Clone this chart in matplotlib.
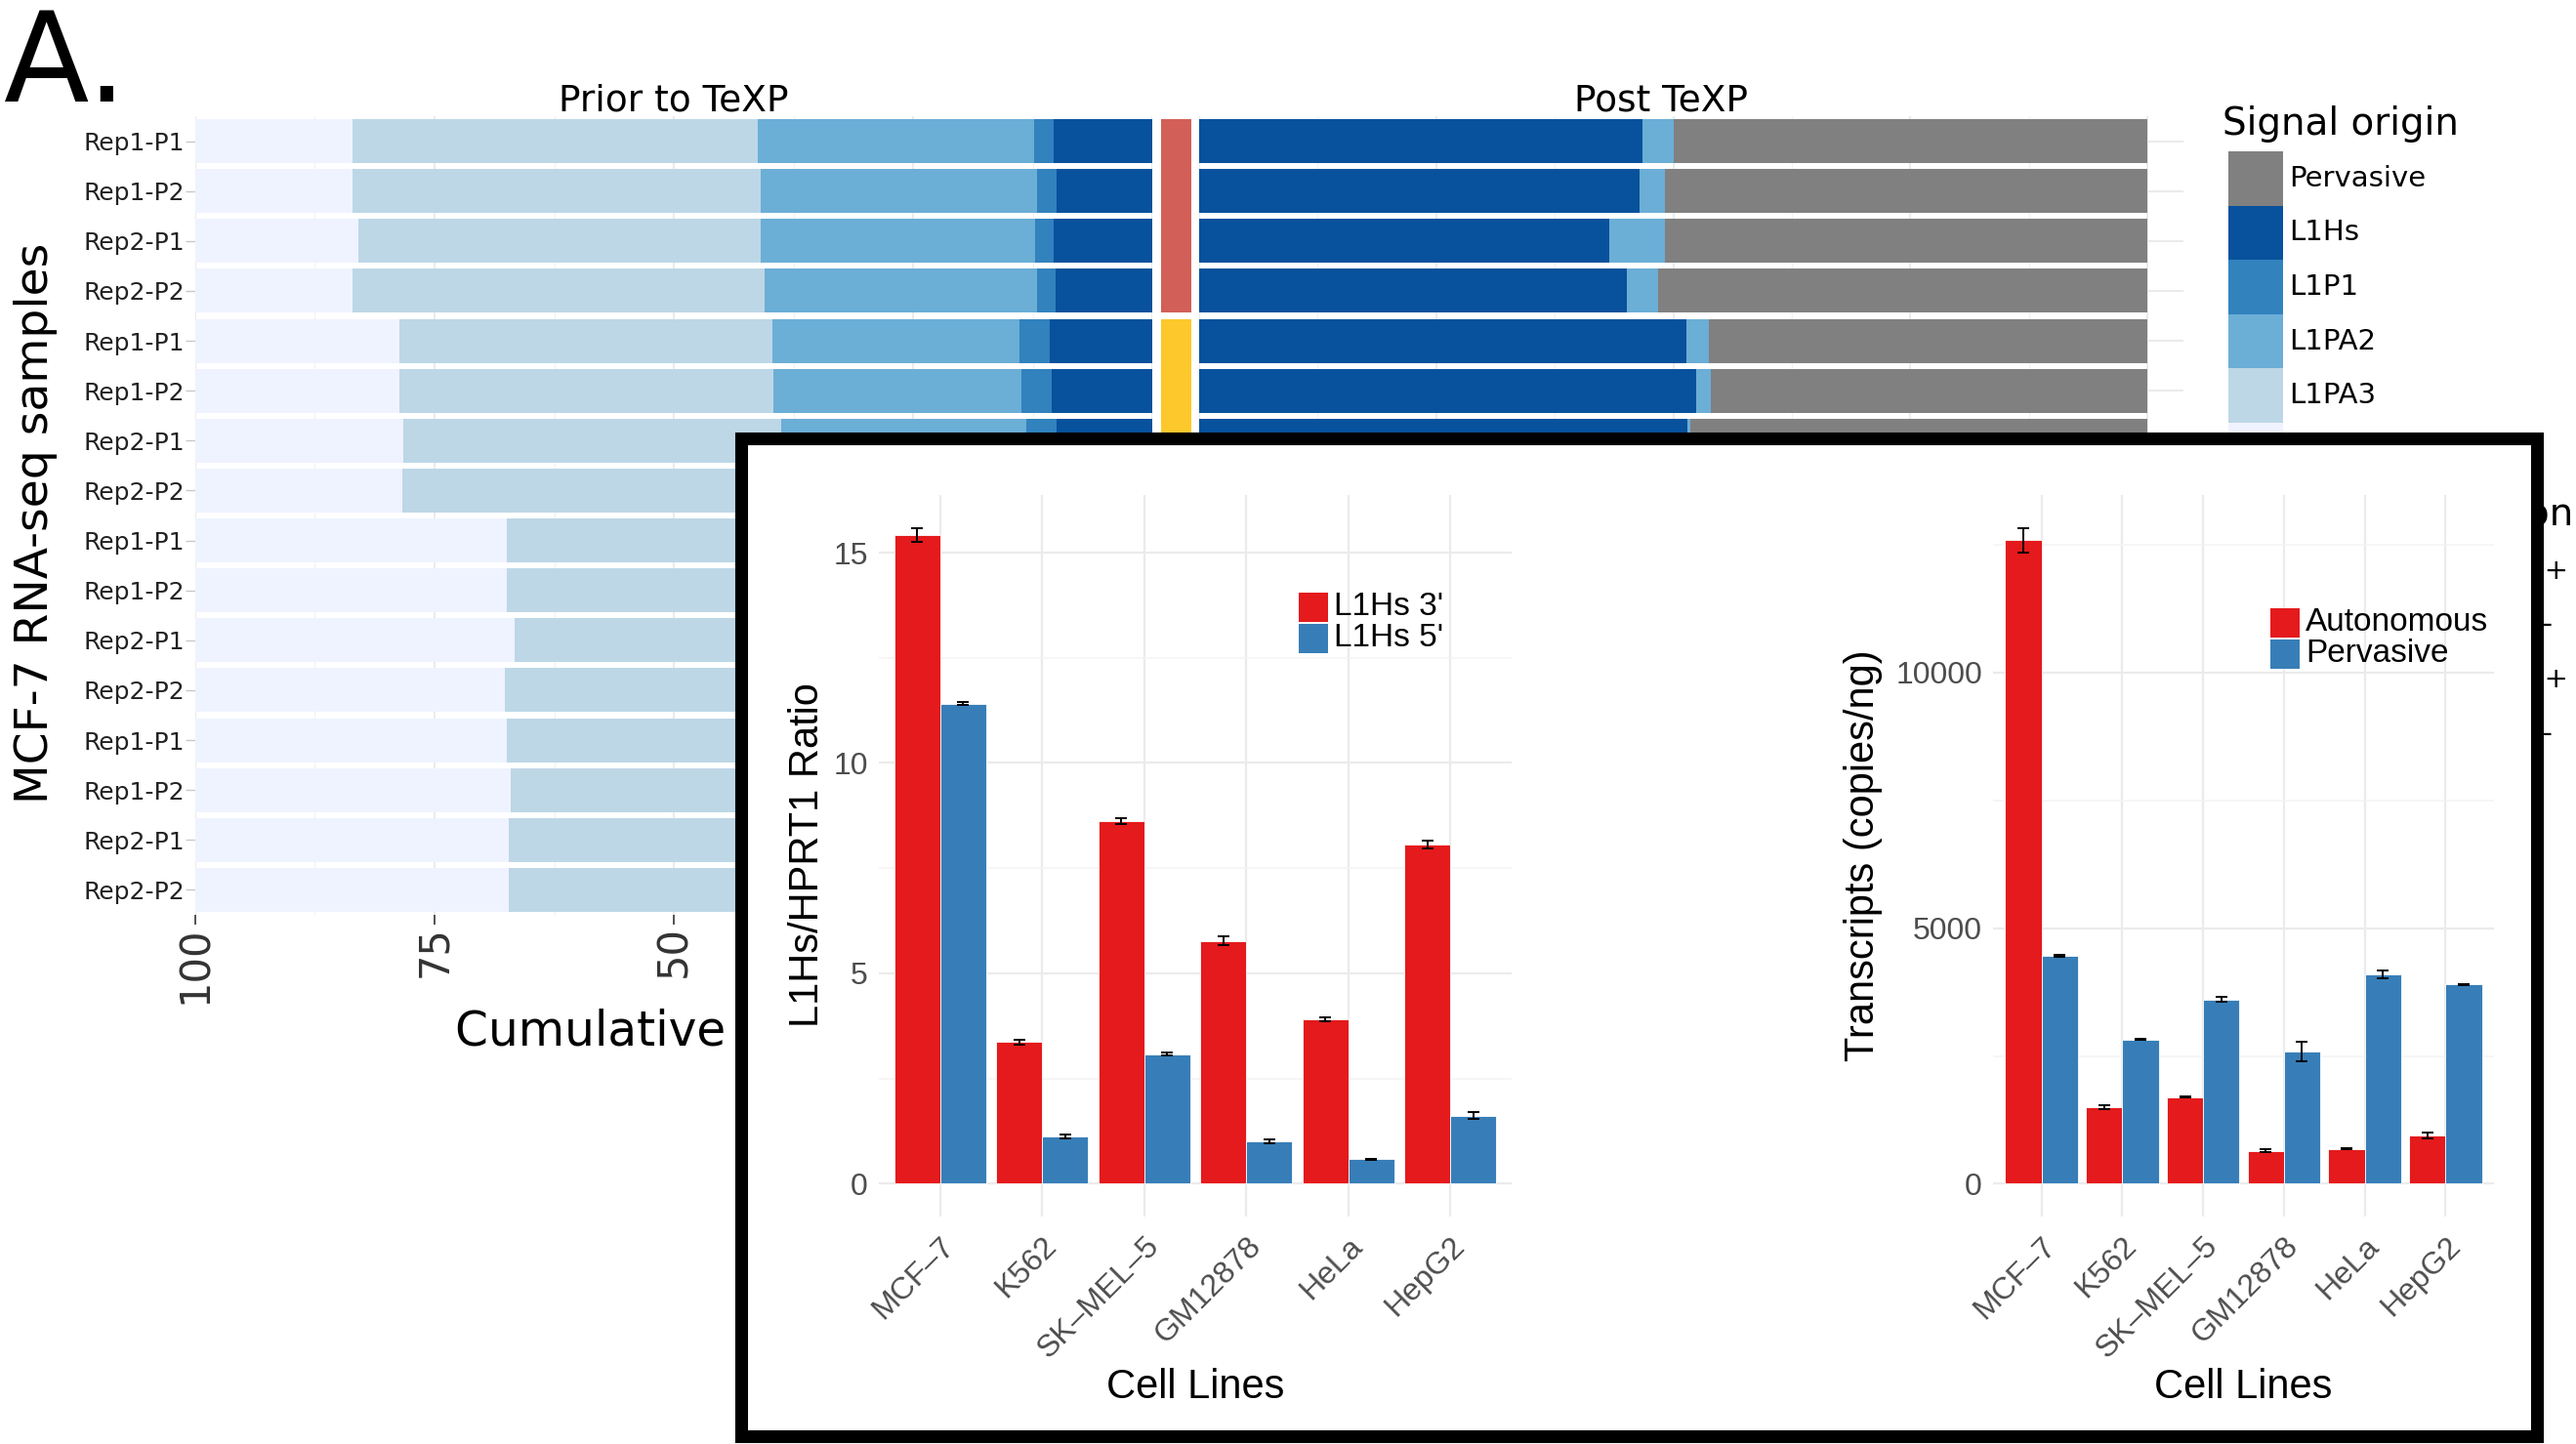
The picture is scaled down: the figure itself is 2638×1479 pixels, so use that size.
import numpy as np
import matplotlib.pyplot as plt
from matplotlib.patches import Rectangle

W, H = 2638, 1479

samples = ["Rep1-P1", "Rep1-P2", "Rep2-P1", "Rep2-P2"] * 4
groups = ["L1 ORF1 vector +", "L1 ORF1 vector -", "L1 ORF2 vector +", "L1 ORF2 vector -"]
group_colors = ["#d35f59", "#fdc82c", "#5aae61", "#9970ab"]

origins = ["Pervasive", "L1Hs", "L1P1", "L1PA2", "L1PA3", "L1PA4"]
origin_colors = ["#808080", "#08519c", "#3182bd", "#6baed6", "#bdd7e7", "#eff3ff"]

# % of signal per sample before TeXP correction
prior_l1hs = [10.3, 10.0, 10.3, 10.1, 10.7, 10.5, 10.0, 10.2, 11.2, 11.0, 11.4, 11.1, 10.8, 10.9, 11.0, 11.2]
prior_l1p1 = [2.0, 2.0, 1.9, 1.9, 3.2, 3.2, 3.2, 3.3, 3.4, 3.5, 3.3, 3.4, 3.6, 3.5, 3.4, 3.5]
prior_l1pa2 = [28.9, 28.9, 28.7, 28.5, 25.8, 25.9, 25.6, 25.7, 24.6, 24.4, 24.8, 24.3, 24.7, 24.5, 24.6, 24.4]
prior_l1pa3 = [42.4, 42.7, 42.1, 43.1, 39.0, 39.1, 39.5, 39.2, 28.2, 28.6, 27.1, 28.9, 28.3, 28.1, 28.2, 28.1]
prior_l1pa4 = [16.4, 16.4, 17.0, 16.4, 21.3, 21.3, 21.7, 21.6, 32.6, 32.5, 33.4, 32.3, 32.6, 33.0, 32.8, 32.8]

# % of signal per sample after TeXP correction
post_pervasive = [50.0, 50.9, 50.9, 51.6, 46.2, 46.0, 48.2, 48.0, 57.5, 58.2, 56.9, 58.8, 57.1, 57.9, 58.4, 57.6]
post_l1pa2 = [3.2, 2.7, 5.9, 3.3, 2.4, 1.6, 0.3, 0.4, 1.8, 2.1, 1.6, 2.0, 1.9, 1.7, 2.2, 1.8]
post_l1hs = [46.8, 46.4, 43.2, 45.1, 51.4, 52.4, 51.5, 51.6, 40.7, 39.7, 41.5, 39.2, 41.0, 40.4, 39.4, 40.6]

cell_lines = ["MCF–7", "K562", "SK–MEL–5", "GM12878", "HeLa", "HepG2"]
ratio_3p = [15.42, 3.37, 8.62, 5.77, 3.91, 8.06]
ratio_3p_err = [0.17, 0.06, 0.06, 0.10, 0.05, 0.10]
ratio_5p = [11.41, 1.12, 3.08, 1.00, 0.58, 1.62]
ratio_5p_err = [0.04, 0.04, 0.03, 0.05, 0.02, 0.08]
copies_auto = [12594, 1494, 1696, 646, 682, 949]
copies_auto_err = [240, 40, 10, 25, 15, 55]
copies_perv = [4458, 2823, 3606, 2594, 4101, 3899]
copies_perv_err = [20, 15, 45, 190, 80, 10]

RED, BLUE = "#e41a1c", "#377eb8"
SANS = "Liberation Sans"


def fx(x):
    return x / W


def fy(y):
    return 1 - y / H


def box(x0, y0, x1, y1):
    return [x0 / W, 1 - y1 / H, (x1 - x0) / W, (y1 - y0) / H]


fig = plt.figure(figsize=(W / 100, H / 100), dpi=100)
rows = np.arange(len(samples))


def stacked(ax, parts, colors):
    left = np.zeros(len(samples))
    for vals, c in zip(parts, colors):
        ax.barh(rows, vals, left=left, height=0.88, color=c, linewidth=0, zorder=2)
        left += np.asarray(vals)


def style_top(ax, xlim):
    for s in ax.spines.values():
        s.set_visible(False)
    ax.set_xlim(*xlim)
    ax.set_ylim(len(samples) - 0.5, -0.5)
    ax.set_xticks([100, 75, 50, 25, 0])
    ax.set_xticks([87.5, 62.5, 37.5, 12.5], minor=True)
    ax.set_yticks(rows)
    ax.grid(which="major", color="#ebebeb", lw=1.5)
    ax.grid(which="minor", axis="x", color="#f3f3f3", lw=1.0)
    ax.set_axisbelow(True)
    ax.tick_params(axis="x", which="major", labelrotation=90, labelsize=30,
                   length=7, width=1.2, color="#333333", labelcolor="#333333", pad=1)
    ax.tick_params(axis="x", which="minor", length=0)
    ax.tick_params(axis="y", length=7, width=1.0, color="#c8c8c8",
                   labelsize=18, labelcolor="#222222", pad=1)


# prior panel
ax_pre = fig.add_axes(box(200, 119, 1180, 937))
stacked(ax_pre, [prior_l1hs, prior_l1p1, prior_l1pa2, prior_l1pa3, prior_l1pa4],
        origin_colors[1:])
style_top(ax_pre, (100, 0))
ax_pre.set_yticklabels(samples)

# condition strip
ax_ann = fig.add_axes(box(1189, 119, 1220, 937))
centers = [1.5, 5.5, 9.5, 13.5]
ax_ann.barh(centers, [1] * 4, height=3.88, color=group_colors, linewidth=0)
ax_ann.set_xlim(0, 1)
ax_ann.set_ylim(len(samples) - 0.5, -0.5)
ax_ann.axis("off")

# post panel
ax_post = fig.add_axes(box(1228, 119, 2236, 937))
stacked(ax_post, [post_pervasive, post_l1pa2, post_l1hs],
        [origin_colors[0], origin_colors[3], origin_colors[1]])
style_top(ax_post, (100, -3.8))
ax_post.set_yticklabels([])
ax_post.tick_params(axis="y", length=0)

fig.text(fx(690), fy(103), "Prior to TeXP", ha="center", va="center", fontsize=27)
fig.text(fx(1701), fy(103), "Post TeXP", ha="center", va="center", fontsize=27)
fig.text(fx(466), fy(1057), "Cumulative percentage", ha="left", va="center", fontsize=35)
fig.text(fx(37), fy(536), "MCF-7 RNA-seq samples", rotation=90, ha="center",
         va="center", fontsize=34)
fig.text(fx(4), fy(104), "A.", ha="left", va="baseline", fontsize=92)

# legends of the top figure
fig.text(fx(2276), fy(127), "Signal origin", ha="left", va="center", fontsize=28)
kh = 55.6
for i, (name, c) in enumerate(zip(origins, origin_colors)):
    top = 155 + i * kh
    fig.add_artist(Rectangle((fx(2282), fy(top + kh)), 56 / W, kh / H,
                             transform=fig.transFigure, color=c, lw=0))
    fig.text(fx(2344), fy(top + kh / 2), name, ha="left", va="center", fontsize=21)

fig.text(fx(2636), fy(527), "Overexpression", ha="right", va="center", fontsize=28)
for i, (name, c) in enumerate(zip(groups, group_colors)):
    top = 557 + i * kh
    fig.add_artist(Rectangle((fx(2282), fy(top + kh)), 56 / W, kh / H,
                             transform=fig.transFigure, color=c, lw=0))
    # labels end on the +/- sign just right of the inset frame
    right = 2630 if name.endswith("+") else 2614
    fig.text(fx(right), fy(top + kh / 2), name, ha="right", va="center", fontsize=21)

# framed qPCR inset
fig.add_artist(Rectangle((fx(758.5), fy(1471)), (2597.5 - 758.5) / W, (1471 - 448.5) / H,
                         transform=fig.transFigure, facecolor="white",
                         edgecolor="black", lw=9.4, zorder=5))


def qpcr_panel(rect, a, a_err, b, b_err, major, minor, ylabel, ylabel_x, names, leg_x, leg_y):
    ax = fig.add_axes(box(*rect), zorder=6)
    ax.set_facecolor("none")
    x = np.arange(len(cell_lines))
    ax.bar(x - 0.225, a, width=0.45, color=RED, edgecolor="white", linewidth=0.6, zorder=2)
    ax.bar(x + 0.225, b, width=0.45, color=BLUE, edgecolor="white", linewidth=0.6, zorder=2)
    ax.errorbar(x - 0.225, a, yerr=a_err, fmt="none", ecolor="black",
                elinewidth=1.4, capsize=4, capthick=1.4, zorder=3)
    ax.errorbar(x + 0.225, b, yerr=b_err, fmt="none", ecolor="black",
                elinewidth=1.4, capsize=4, capthick=1.4, zorder=3)
    top = max(np.max(np.add(a, a_err)), np.max(np.add(b, b_err)))
    ax.set_ylim(-0.05 * top, 1.05 * top)
    ax.set_xlim(-0.6, len(cell_lines) - 0.4)
    ax.set_xticks(x)
    ax.set_xticklabels(cell_lines, rotation=45, ha="right", rotation_mode="anchor",
                       fontfamily=SANS)
    ax.set_yticks(major)
    ax.set_yticklabels([str(v) for v in major], fontfamily=SANS)
    ax.set_yticks(minor, minor=True)
    ax.grid(which="major", color="#ebebeb", lw=1.6)
    ax.grid(which="minor", axis="y", color="#f4f4f4", lw=1.1)
    ax.set_axisbelow(True)
    for s in ax.spines.values():
        s.set_visible(False)
    ax.tick_params(which="both", length=0)
    ax.tick_params(axis="y", labelsize=23, labelcolor="#4d4d4d", pad=8)
    ax.tick_params(axis="x", labelsize=23, labelcolor="#4d4d4d", pad=11)
    fig.text(fx(ylabel_x), fy(876), ylabel, rotation=90, ha="center", va="center",
             fontsize=30, fontfamily=SANS, zorder=7)
    fig.text(fx((rect[0] + rect[2]) / 2), fy(1421), "Cell Lines", ha="center",
             va="center", fontsize=30, fontfamily=SANS, zorder=7)
    for i, (name, c) in enumerate(zip(names, [RED, BLUE])):
        top = leg_y + i * 32
        fig.add_artist(Rectangle((fx(leg_x), fy(top + 30)), 30 / W, 30 / H,
                                 transform=fig.transFigure, color=c, lw=0, zorder=7))
        fig.text(fx(leg_x + 36), fy(top + 15), name, ha="left", va="center",
                 fontsize=24, fontfamily=SANS, zorder=7)
    return ax


qpcr_panel((900, 507, 1548, 1246), ratio_3p, ratio_3p_err, ratio_5p, ratio_5p_err,
           [0, 5, 10, 15], [2.5, 7.5, 12.5], "L1Hs/HPRT1 Ratio", 827,
           ["L1Hs 3'", "L1Hs 5'"], 1330, 607)
qpcr_panel((2041, 507, 2554, 1246), copies_auto, copies_auto_err, copies_perv, copies_perv_err,
           [0, 5000, 10000], [2500, 7500, 12500], "Transcripts (copies/ng)", 1908,
           ["Autonomous", "Pervasive"], 2325, 623)

fig.savefig("out.png", dpi=100)
